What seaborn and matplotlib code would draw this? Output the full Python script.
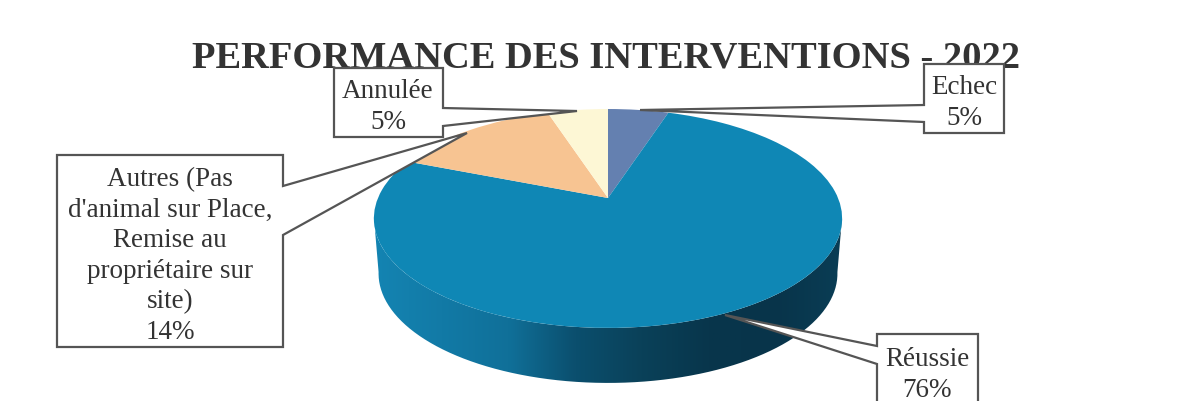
import matplotlib
matplotlib.use("Agg")
import matplotlib.pyplot as plt
from matplotlib.patches import PathPatch, Polygon
from matplotlib.path import Path
from matplotlib.transforms import Transform
import numpy as np
import seaborn as sns

# %% Data
title = "PERFORMANCE DES INTERVENTIONS - 2022"
categories = ["Echec", "Réussie", "Autres", "Annulée"]
shares = [5, 76, 14, 5]
printed_labels = ["Echec\n5%", "Réussie\n76%",
                  "Autres (Pas\nd'animal sur Place,\nRemise au\npropriétaire sur\nsite)\n14%",
                  "Annulée\n5%"]
top_colors = ["#6480b0", "#0f87b5", "#f7c492", "#fdf7d5"]
wall_colors = ["#1484b2", "#127aa6", "#107099", "#0b4f6e", "#0a4159", "#08364c", "#08344a", "#0a3d55"]

# %% Layout, in pixels of the picture
WIDTH, HEIGHT = 1192, 401
CX, APEX_Y = 608, 198
RX, A, C = 230, -68.6, 0.187
DEPTH = 55
INK = "#555555"
callouts = {
    "Echec": [(924, 64), (1004, 64), (1004, 133), (924, 133), (924, 122), (640, 110), (924, 105)],
    "Réussie": [(877, 334), (978, 334), (978, 410), (877, 410), (877, 364), (725, 315), (877, 346)],
    "Autres": [(57, 155), (283, 155), (283, 186), (467, 133), (283, 235), (283, 347), (57, 347)],
    "Annulée": [(334, 68), (443, 68), (443, 108), (577, 111), (443, 126), (443, 137), (334, 137)],
}
label_xy = {"Echec": (964, 103), "Réussie": (927, 375), "Autres": (170, 256), "Annulée": (388, 107)}


class Tilt(Transform):
    # unit circle to the tilted disc of the picture, apex behind the disc centre
    input_dims = output_dims = 2

    def __init__(self, drop=0, narrow=1):
        super().__init__()
        self.drop = drop
        self.narrow = narrow

    def transform_non_affine(self, values):
        u, v = values[:, 0], values[:, 1]
        w = 1 + C * v
        return np.column_stack([CX + self.narrow * RX * u / w, (A * v + APEX_Y) / w + self.drop])


sns.set_theme(style="white")
plt.rcParams["font.family"] = ["Liberation Serif", "DejaVu Serif"]

fig = plt.figure(figsize=(WIDTH / 100, HEIGHT / 100), dpi=100)
ax = fig.add_axes([0, 0, 1, 1])

# %% Title goes first, the callouts cover its lower edge
ax.text(606, 67, title, ha="center", va="baseline", fontsize=27.7, fontweight="bold", color="#333333")

# %% Side wall, front half of the disc pushed down
angles = np.radians(np.linspace(190, 350, 160))
rim = np.column_stack([np.cos(angles), np.sin(angles)])
upper = Tilt().transform(rim)
lower = Tilt(DEPTH, 0.98).transform(rim)
wall = Path(np.vstack([upper, lower[::-1], upper[:1]]))
shade = np.linspace(0, 1, 256).reshape(1, -1)
image = ax.imshow(shade, cmap=sns.blend_palette(wall_colors, as_cmap=True), aspect="auto",
                  extent=[375, 842, 400, 100], zorder=1)
clip = PathPatch(wall, facecolor="none", edgecolor="none", transform=ax.transData)
ax.add_patch(clip)
image.set_clip_path(clip)

# %% Top of the pie
wedges, _ = ax.pie(shares, colors=top_colors, startangle=90, counterclock=False,
                   wedgeprops={"linewidth": 0})
for wedge in wedges:
    wedge.set_transform(Tilt() + ax.transData)
    wedge.set_zorder(2)

# %% Callouts
for name, label in zip(categories, printed_labels):
    ax.add_patch(Polygon(callouts[name], closed=True, facecolor="white", edgecolor=INK,
                         linewidth=1.6, zorder=3))
    x, y = label_xy[name]
    ax.text(x, y, label, ha="center", va="center", fontsize=19.5, color="#333333",
            linespacing=1.3, zorder=4)

ax.set_aspect("auto")
ax.set_xlim(0, WIDTH)
ax.set_ylim(HEIGHT, 0)
ax.axis("off")

fig.savefig("out.png", dpi=100, facecolor="white")
